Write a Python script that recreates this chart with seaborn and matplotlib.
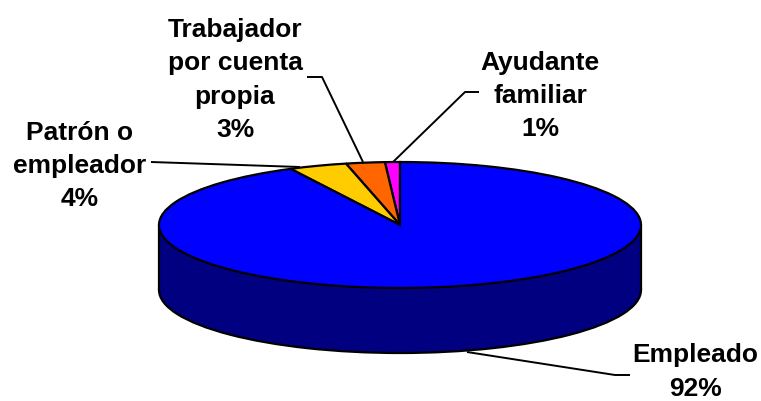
import matplotlib
matplotlib.use("Agg")
import matplotlib.pyplot as plt
import seaborn as sns

# categories, going counter clockwise from 12 o'clock
categories = ["Ayudante\nfamiliar", "Trabajador\npor cuenta\npropia", "Patrón o\nempleador", "Empleado"]
shares = [1.0, 2.6, 3.9, 92.5]
pct_labels = ["1%", "3%", "4%", "92%"]
colors = ["#FF00FF", "#FF6600", "#FFCC00", "#0000FF"]
side_color = "#000080"

sns.set_theme(style="white")
plt.rcParams["font.family"] = ["Liberation Sans", "DejaVu Sans"]

W, H = 761, 402
cx, cy = 400, 226   # pie centre in pixels
rx, ry = 241, 63
depth = 65


# pixel position -> data position
def px(x, y):
    return (x - cx) / rx, (cy - y) / ry


fig = plt.figure(figsize=(W / 100, H / 100), dpi=100)
ax = fig.add_axes([0, 0, 1, 1])

edge = {"edgecolor": "black", "linewidth": 1.6}

# side wall: same pie moved down, plus a band up to the top face
d = depth / ry
ax.pie([sum(shares)], colors=[side_color], center=(0, -d), wedgeprops=edge, startangle=90)
ax.bar(0, d, width=2, bottom=-d, color=side_color, linewidth=0, zorder=2)
ax.vlines([-1, 1], -d, 0, color="black", linewidth=1.6, zorder=3)

# top face
ax.pie(shares, colors=colors, startangle=90, wedgeprops={**edge, "zorder": 4})

# pie() forces equal aspect, squash it into an ellipse
ax.set_aspect("auto")
ax.set_xlim(-cx / rx, (W - cx) / rx)
ax.set_ylim((cy - H) / ry, cy / ry)
ax.set_axis_off()

# leader lines
leaders = [
    [(479, 93), (465, 93), (393, 163)],
    [(307, 78), (322, 78), (363, 163)],
    [(151, 163), (300, 168)],
    [(467, 353), (615, 376), (630, 376)],
]
for pts in leaders:
    xy = [px(*p) for p in pts]
    ax.plot([p[0] for p in xy], [p[1] for p in xy], color="black", lw=1.4, zorder=5,
            solid_capstyle="butt")

# labels
label_pos = [(540, 96), (235, 80), (80, 166), (695, 372)]
for name, pct, pos in zip(categories, pct_labels, label_pos):
    x, y = px(*pos)
    ax.text(x, y, f"{name}\n{pct}", ha="center", va="center", fontsize=19,
            fontweight="bold", color="black", linespacing=1.48, zorder=6)

fig.savefig("out.png", dpi=100, facecolor="white")
